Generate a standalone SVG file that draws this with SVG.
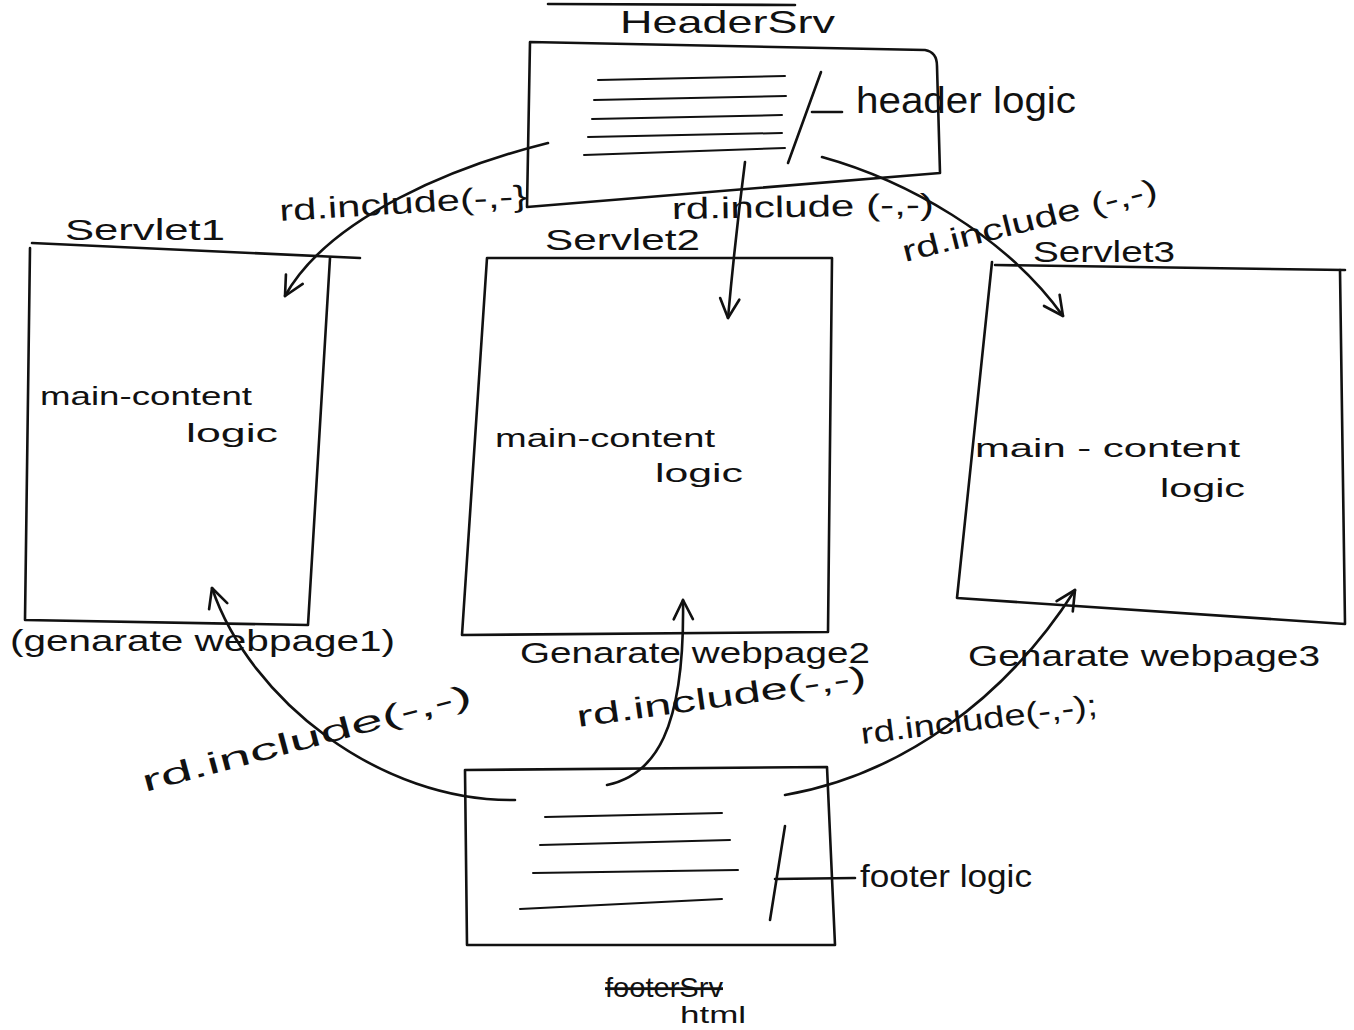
<svg xmlns="http://www.w3.org/2000/svg" width="1354" height="1030" viewBox="0 0 1354 1030">
  <style>
    .ink { fill: none; stroke: #111; stroke-width: 2.6; stroke-linecap: round; stroke-linejoin: round; }
    .thin { fill: none; stroke: #111; stroke-width: 2; stroke-linecap: round; }
    .hand { font-family: "Liberation Sans", "DejaVu Sans", sans-serif; fill: #111; }
    .lbl { font-size: 30px; }
    .sm { font-size: 26px; }
  </style>
  <defs>
    <marker id="open-arrow" viewBox="0 0 20 20" refX="18" refY="10" markerWidth="24" markerHeight="24" markerUnits="userSpaceOnUse" orient="auto">
      <path d="M2,2 L18,10 L2,18" fill="none" stroke="#111" stroke-width="2.2" stroke-linecap="round" stroke-linejoin="round"/>
    </marker>
  </defs>
  <rect width="1354" height="1030" fill="#fff"/>

  <!-- page heading rule -->
  <line class="ink" x1="548" y1="4" x2="795" y2="5"/>

  <!-- header servlet -->
  <g id="header-srv">
    <path class="ink" d="M530,42 L925,50 Q937,52 937,66 L940,173 L527,207 Z"/>
    <line class="thin" x1="598" y1="80" x2="785" y2="76"/>
    <line class="thin" x1="594" y1="100" x2="786" y2="96"/>
    <line class="thin" x1="592" y1="119" x2="782" y2="115"/>
    <line class="thin" x1="588" y1="137" x2="782" y2="133"/>
    <line class="thin" x1="584" y1="155" x2="785" y2="148"/>
    <line class="ink" x1="788" y1="163" x2="821" y2="72"/>
    <line class="ink" x1="812" y1="112" x2="842" y2="112"/>
    <text class="hand" x="620" y="33" font-size="32" textLength="215" lengthAdjust="spacingAndGlyphs">HeaderSrv</text>
    <text class="hand" x="856" y="113" font-size="36" textLength="220" lengthAdjust="spacingAndGlyphs">header logic</text>
  </g>

  <!-- servlet 1 -->
  <g id="servlet1">
    <path class="ink" d="M30,248 L25,620 L308,625 L330,258"/>
    <line class="ink" x1="32" y1="243" x2="360" y2="258"/>
    <text class="hand lbl" x="65" y="240" textLength="160" lengthAdjust="spacingAndGlyphs">Servlet1</text>
    <text class="hand sm" x="40" y="405" textLength="212" lengthAdjust="spacingAndGlyphs">main-content</text>
    <text class="hand sm" x="186" y="442" textLength="92" lengthAdjust="spacingAndGlyphs">logic</text>
    <text class="hand lbl" x="10" y="651" textLength="385" lengthAdjust="spacingAndGlyphs">(genarate webpage1)</text>
  </g>

  <!-- servlet 2 -->
  <g id="servlet2">
    <path class="ink" d="M487,258 L832,258 L828,632 L462,635 Z"/>
    <text class="hand lbl" x="545" y="250" textLength="155" lengthAdjust="spacingAndGlyphs">Servlet2</text>
    <text class="hand sm" x="495" y="447" textLength="220" lengthAdjust="spacingAndGlyphs">main-content</text>
    <text class="hand sm" x="655" y="482" textLength="88" lengthAdjust="spacingAndGlyphs">logic</text>
    <text class="hand lbl" x="520" y="663" textLength="350" lengthAdjust="spacingAndGlyphs">Genarate webpage2</text>
  </g>

  <!-- servlet 3 -->
  <g id="servlet3">
    <path class="ink" d="M992,262 L957,598 L1345,624 L1340,270"/>
    <line class="ink" x1="995" y1="265" x2="1345" y2="270"/>
    <text class="hand lbl" x="1033" y="262" textLength="142" lengthAdjust="spacingAndGlyphs">Servlet3</text>
    <text class="hand sm" x="975" y="457" textLength="265" lengthAdjust="spacingAndGlyphs">main - content</text>
    <text class="hand sm" x="1160" y="497" textLength="85" lengthAdjust="spacingAndGlyphs">logic</text>
    <text class="hand lbl" x="968" y="666" textLength="352" lengthAdjust="spacingAndGlyphs">Genarate webpage3</text>
  </g>

  <!-- footer -->
  <g id="footer-html">
    <path class="ink" d="M465,770 L827,767 L835,945 L467,945 Z"/>
    <line class="thin" x1="545" y1="817" x2="722" y2="813"/>
    <line class="thin" x1="540" y1="845" x2="730" y2="840"/>
    <line class="thin" x1="533" y1="873" x2="738" y2="870"/>
    <line class="thin" x1="520" y1="909" x2="722" y2="899"/>
    <line class="ink" x1="785" y1="826" x2="770" y2="920"/>
    <line class="ink" x1="775" y1="879" x2="855" y2="878"/>
    <text class="hand" x="860" y="887" font-size="32" textLength="172" lengthAdjust="spacingAndGlyphs">footer logic</text>
    <text class="hand" x="605" y="997" font-size="28" textLength="118" lengthAdjust="spacingAndGlyphs" text-decoration="line-through">footerSrv</text>
    <text class="hand" x="680" y="1023" font-size="24" textLength="66" lengthAdjust="spacingAndGlyphs">html</text>
  </g>

  <!-- include calls between servlets -->
  <g id="connectors">
    <path class="ink" marker-end="url(#open-arrow)" d="M548,143 C460,165 330,215 285,296"/>
    <path class="ink" marker-end="url(#open-arrow)" d="M745,162 Q735,240 728,318"/>
    <path class="ink" marker-end="url(#open-arrow)" d="M822,157 C905,180 1005,235 1063,316"/>
    <path class="ink" marker-end="url(#open-arrow)" d="M515,800 C380,802 250,700 212,588"/>
    <path class="ink" marker-end="url(#open-arrow)" d="M607,785 C655,775 685,730 683,600"/>
    <path class="ink" marker-end="url(#open-arrow)" d="M785,795 C900,775 1005,700 1075,590"/>

    <text class="hand lbl" transform="translate(280,221) rotate(-3.5)" textLength="248" lengthAdjust="spacingAndGlyphs">rd.include(-,-}</text>
    <text class="hand lbl" transform="translate(672,219) rotate(-1)" textLength="262" lengthAdjust="spacingAndGlyphs">rd.include (-,-)</text>
    <text class="hand lbl" transform="translate(905,262) rotate(-14)" textLength="262" lengthAdjust="spacingAndGlyphs">rd.include (-,-)</text>
    <text class="hand lbl" transform="translate(145,792) rotate(-15)" textLength="340" lengthAdjust="spacingAndGlyphs">rd.include(-,-)</text>
    <text class="hand lbl" transform="translate(578,727) rotate(-8)" textLength="292" lengthAdjust="spacingAndGlyphs">rd.include(-,-)</text>
    <text class="hand lbl" transform="translate(862,744) rotate(-7)" textLength="238" lengthAdjust="spacingAndGlyphs">rd.include(-,-);</text>
  </g>
</svg>
